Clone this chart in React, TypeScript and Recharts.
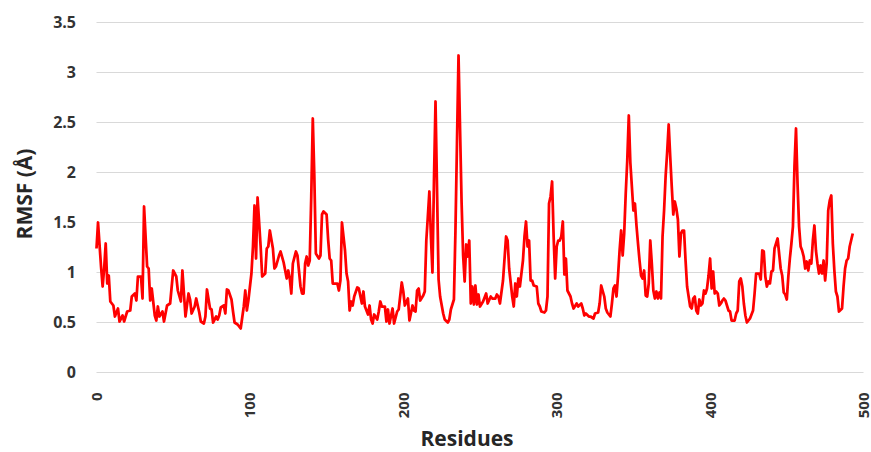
import { LineChart, Line, XAxis, YAxis, CartesianGrid } from 'recharts';

const residues = [
  0, 1, 3, 4, 5, 6, 7, 8, 9, 11,
  12, 14, 15, 17, 18, 20, 22, 23, 25, 26,
  27, 29, 30, 31, 33, 34, 35, 36, 38, 39,
  40, 41, 43, 44, 46, 48, 50, 52, 53, 55,
  56, 58, 60, 61, 62, 64, 65, 67, 68, 70,
  71, 72, 74, 75, 76, 78, 79, 80, 81, 83,
  84, 85, 86, 88, 89, 90, 92, 94, 96, 97,
  98, 99, 101, 102, 103, 104, 105, 107, 108, 110,
  111, 112, 113, 115, 116, 117, 119, 120, 122, 124,
  125, 126, 127, 128, 130, 131, 133, 134, 135, 136,
  137, 138, 139, 140, 141, 142, 143, 145, 146, 147,
  148, 150, 151, 152, 153, 154, 156, 157, 158, 159,
  160, 162, 163, 164, 165, 166, 167, 168, 170, 171,
  173, 174, 175, 177, 178, 179, 180, 181, 183, 184,
  185, 186, 188, 189, 190, 191, 193, 194, 196, 197,
  199, 200, 201, 203, 204, 206, 207, 208, 209, 210,
  211, 213, 214, 215, 216, 217, 218, 219, 220, 221,
  223, 224, 226, 227, 229, 230, 231, 233, 234, 235,
  236, 238, 239, 240, 241, 242, 243, 244, 245, 246,
  247, 248, 249, 250, 252, 254, 255, 257, 258, 260,
  261, 262, 263, 265, 267, 268, 269, 271, 272, 273,
  274, 275, 276, 278, 279, 280, 281, 282, 283, 284,
  285, 287, 288, 289, 290, 292, 293, 294, 295, 296,
  297, 298, 299, 300, 301, 302, 303, 304, 305, 306,
  307, 309, 310, 311, 313, 314, 316, 317, 318, 319,
  321, 322, 324, 325, 327, 328, 329, 331, 332, 333,
  335, 336, 337, 338, 339, 340, 341, 342, 343, 344,
  345, 346, 347, 348, 350, 351, 352, 353, 354, 355,
  356, 357, 358, 359, 360, 361, 362, 363, 364, 365,
  366, 367, 368, 369, 370, 371, 372, 373, 374, 375,
  376, 377, 378, 379, 380, 381, 382, 383, 384, 385,
  387, 388, 389, 390, 391, 392, 393, 394, 395, 396,
  397, 398, 399, 400, 401, 402, 403, 404, 405, 406,
  407, 408, 409, 410, 412, 413, 414, 416, 417, 418,
  419, 420, 421, 422, 423, 424, 426, 428, 429, 430,
  432, 433, 434, 435, 436, 437, 438, 439, 440, 441,
  442, 444, 445, 446, 447, 448, 449, 450, 451, 452,
  453, 454, 455, 456, 457, 458, 459, 460, 461, 462,
  463, 464, 465, 466, 467, 468, 469, 470, 471, 472,
  473, 474, 475, 476, 477, 478, 479, 480, 481, 482,
  483, 484, 486, 487, 488, 489, 490, 491, 493,
];

const rmsf = [
  1.24, 1.5, 1.05, 0.86, 1.04, 1.29, 0.89, 0.97, 0.71, 0.67,
  0.56, 0.64, 0.51, 0.57, 0.51, 0.61, 0.62, 0.76, 0.79, 0.72,
  0.96, 0.96, 0.74, 1.66, 1.06, 1.04, 0.72, 0.84, 0.57, 0.52,
  0.66, 0.56, 0.61, 0.51, 0.67, 0.69, 1.02, 0.96, 0.82, 0.71,
  1.02, 0.56, 0.79, 0.73, 0.59, 0.66, 0.74, 0.6, 0.51, 0.49,
  0.56, 0.83, 0.64, 0.63, 0.5, 0.56, 0.53, 0.57, 0.65, 0.67,
  0.59, 0.83, 0.82, 0.73, 0.61, 0.5, 0.48, 0.44, 0.66, 0.82,
  0.62, 0.72, 0.99, 1.26, 1.67, 1.14, 1.75, 1.26, 0.96, 0.99,
  1.24, 1.26, 1.42, 1.24, 1.04, 1.06, 1.17, 1.21, 1.1, 0.94,
  1.02, 0.94, 0.79, 1.09, 1.21, 1.17, 0.86, 0.79, 0.79, 1.09,
  1.16, 1.07, 1.12, 1.76, 2.54, 1.96, 1.19, 1.14, 1.17, 1.58,
  1.61, 1.58, 1.33, 1.14, 1.12, 0.89, 0.89, 0.89, 0.82, 0.92,
  1.5, 1.22, 0.99, 0.91, 0.62, 0.71, 0.67, 0.76, 0.85, 0.84,
  0.69, 0.81, 0.66, 0.58, 0.67, 0.53, 0.49, 0.58, 0.53, 0.61,
  0.71, 0.66, 0.66, 0.51, 0.63, 0.49, 0.64, 0.49, 0.61, 0.63,
  0.9, 0.81, 0.67, 0.74, 0.52, 0.67, 0.62, 0.61, 0.82, 0.84,
  0.72, 0.77, 0.81, 1.32, 1.56, 1.81, 1.36, 1.0, 1.92, 2.71,
  0.93, 0.76, 0.59, 0.53, 0.5, 0.53, 0.63, 0.73, 1.42, 2.3,
  3.17, 1.7, 1.17, 0.91, 1.28, 1.16, 1.32, 0.69, 0.86, 0.68,
  0.87, 0.68, 0.78, 0.66, 0.71, 0.79, 0.69, 0.76, 0.74, 0.74,
  0.78, 0.76, 0.69, 0.92, 1.36, 1.32, 1.04, 0.76, 0.66, 0.89,
  0.76, 0.94, 0.86, 1.12, 1.36, 1.51, 1.26, 1.32, 0.92, 0.92,
  0.87, 0.86, 0.69, 0.66, 0.61, 0.6, 0.62, 0.76, 1.69, 1.76,
  1.91, 1.36, 0.94, 1.26, 1.32, 1.32, 1.36, 1.51, 0.98, 1.14,
  0.82, 0.76, 0.69, 0.64, 0.69, 0.66, 0.69, 0.64, 0.57, 0.59,
  0.56, 0.56, 0.54, 0.59, 0.6, 0.69, 0.87, 0.76, 0.64, 0.6,
  0.56, 0.69, 0.84, 0.87, 0.76, 0.97, 1.22, 1.42, 1.17, 1.39,
  1.79, 2.12, 2.57, 2.1, 1.62, 1.69, 1.47, 1.29, 1.12, 0.97,
  0.94, 1.02, 0.77, 0.76, 0.89, 1.32, 1.09, 0.82, 0.74, 0.81,
  0.74, 0.8, 0.74, 1.36, 1.62, 1.96, 2.2, 2.48, 2.16, 1.86,
  1.58, 1.71, 1.64, 1.53, 1.16, 1.39, 1.42, 1.42, 1.12, 0.86,
  0.66, 0.64, 0.74, 0.76, 0.62, 0.59, 0.73, 0.67, 0.69, 0.82,
  0.79, 0.84, 0.97, 1.14, 0.84, 1.01, 0.79, 0.81, 0.79, 0.67,
  0.69, 0.72, 0.74, 0.72, 0.62, 0.61, 0.52, 0.52, 0.59, 0.62,
  0.91, 0.94, 0.86, 0.69, 0.57, 0.5, 0.54, 0.62, 0.79, 0.99,
  0.99, 0.93, 1.22, 1.21, 0.96, 0.86, 0.91, 0.89, 1.01, 1.02,
  1.24, 1.34, 1.19, 1.04, 0.97, 0.8, 0.78, 0.73, 0.96, 1.14,
  1.29, 1.46, 2.06, 2.44, 1.89, 1.46, 1.26, 1.22, 1.16, 1.04,
  1.11, 1.02, 1.12, 1.09, 1.32, 1.47, 1.22, 1.09, 0.99, 1.07,
  0.99, 1.12, 0.92, 1.09, 1.62, 1.72, 1.77, 1.29, 1.02, 0.81,
  0.76, 0.61, 0.64, 0.86, 1.04, 1.12, 1.14, 1.26, 1.39,
];

const xTicks = [0, 100, 200, 300, 400, 500];
const yTicks = [0, 0.5, 1, 1.5, 2, 2.5, 3, 3.5];

const data = residues.map((r, i) => ({ residue: r, rmsf: rmsf[i] }));

const FONT = '"Open Sans", "Noto Sans", sans-serif';
const TEXT = '#333333';

function XTick({ x, y, payload }: any) {
  return (
    <text
      transform={`translate(${x}, ${y + 12}) rotate(-90)`}
      textAnchor="end"
      dy="0.36em"
      fontFamily={FONT}
      fontWeight={700}
      fontSize={15}
      fill={TEXT}
    >
      {payload.value}
    </text>
  );
}

function YTick({ y, payload }: any) {
  return (
    <text x={76} y={y} dy="0.36em" textAnchor="end" fontFamily={FONT} fontWeight={700} fontSize={16} fill={TEXT}>
      {payload.value}
    </text>
  );
}

export default function App() {
  return (
    <div style={{ position: 'absolute', left: 0, top: 0, background: '#fff' }}>
      <LineChart width={871} height={452} data={data} margin={{ top: 22.5, right: 7.5, bottom: 0, left: 0 }}>
        <CartesianGrid vertical={false} stroke="#d9d9d9" strokeWidth={1.2} />
        <XAxis
          type="number"
          dataKey="residue"
          domain={[0, 500]}
          ticks={xTicks}
          height={79.5}
          axisLine={false}
          tickLine={false}
          tick={<XTick />}
          interval={0}
          label={{
            content: () => (
              <text x={467} y={446} textAnchor="middle" fontFamily={FONT} fontWeight={700} fontSize={21} fill="#262626">
                Residues
              </text>
            ),
          }}
        />
        <YAxis
          type="number"
          domain={[0, 3.5]}
          ticks={yTicks}
          width={96.5}
          axisLine={false}
          tickLine={false}
          tick={<YTick />}
          interval={0}
          label={{
            content: () => (
              <text
                transform="translate(24, 194) rotate(-90)"
                textAnchor="middle"
                dy="0.36em"
                fontFamily={FONT}
                fontWeight={700}
                fontSize={21}
                fill="#262626"
              >
                RMSF (Å)
              </text>
            ),
          }}
        />
        <Line
          type="linear"
          dataKey="rmsf"
          stroke="#ff0000"
          strokeWidth={2.75}
          strokeLinejoin="round"
          dot={false}
          activeDot={false}
          isAnimationActive={false}
        />
      </LineChart>
    </div>
  );
}
